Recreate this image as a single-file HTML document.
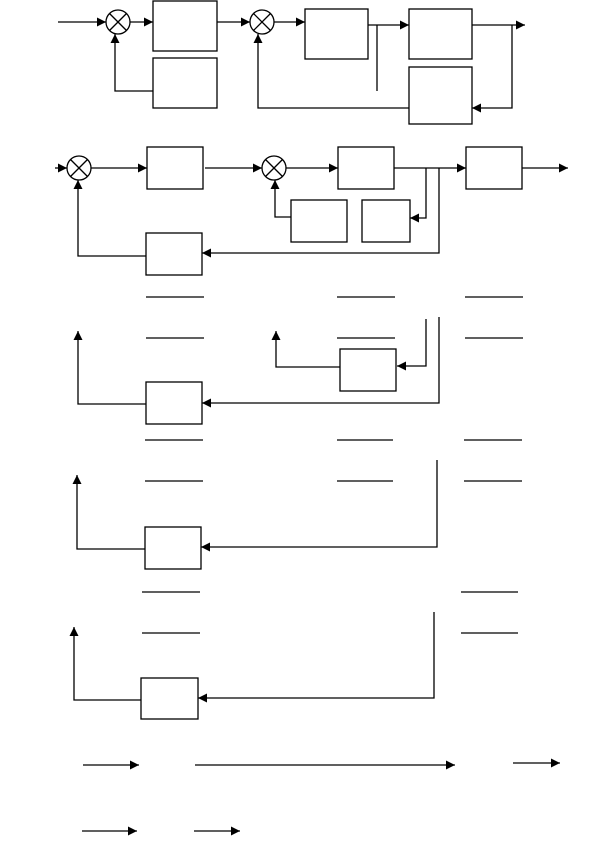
<!DOCTYPE html>
<html><head><meta charset="utf-8"><style>
html,body{margin:0;padding:0;background:#fff;}
svg{display:block;}
</style></head><body>
<svg width="614" height="858" viewBox="0 0 614 858" xmlns="http://www.w3.org/2000/svg">
<defs>
<marker id="a" markerWidth="10" markerHeight="10" refX="9" refY="5" orient="auto" markerUnits="userSpaceOnUse">
<path d="M0,0.5 L9,5 L0,9.5 Z" fill="#000"/>
</marker>
</defs>
<g stroke="#000" stroke-width="1.3" fill="none">
<!-- Diagram 1 -->
<line x1="58" y1="22" x2="106" y2="22" marker-end="url(#a)"/>
<circle cx="118" cy="22" r="12"/>
<line x1="109.5" y1="13.5" x2="126.5" y2="30.5"/><line x1="126.5" y1="13.5" x2="109.5" y2="30.5"/>
<line x1="130" y1="22" x2="153" y2="22" marker-end="url(#a)"/>
<rect x="153" y="1" width="64" height="50"/>
<rect x="153" y="58" width="64" height="50"/>
<polyline points="153,91 115,91 115,34" marker-end="url(#a)"/>
<line x1="217" y1="22" x2="250" y2="22" marker-end="url(#a)"/>
<circle cx="262" cy="22" r="12"/>
<line x1="253.5" y1="13.5" x2="270.5" y2="30.5"/><line x1="270.5" y1="13.5" x2="253.5" y2="30.5"/>
<line x1="274" y1="22" x2="305" y2="22" marker-end="url(#a)"/>
<rect x="305" y="9" width="63" height="50"/>
<line x1="368" y1="25" x2="409" y2="25" marker-end="url(#a)"/>
<line x1="377" y1="25" x2="377" y2="91"/>
<rect x="409" y="9" width="63" height="50"/>
<line x1="472" y1="25" x2="525" y2="25" marker-end="url(#a)"/>
<polyline points="512,25 512,108 472,108" marker-end="url(#a)"/>
<rect x="409" y="67" width="63" height="57"/>
<polyline points="409,108 258,108 258,34" marker-end="url(#a)"/>
<!-- Diagram 2 -->
<line x1="55" y1="168" x2="67" y2="168" marker-end="url(#a)"/>
<circle cx="79" cy="168" r="12"/>
<line x1="70.5" y1="159.5" x2="87.5" y2="176.5"/><line x1="87.5" y1="159.5" x2="70.5" y2="176.5"/>
<line x1="91" y1="168" x2="147" y2="168" marker-end="url(#a)"/>
<rect x="147" y="147" width="56" height="42"/>
<line x1="205" y1="168" x2="262" y2="168" marker-end="url(#a)"/>
<circle cx="274" cy="168" r="12"/>
<line x1="265.5" y1="159.5" x2="282.5" y2="176.5"/><line x1="282.5" y1="159.5" x2="265.5" y2="176.5"/>
<line x1="286" y1="168" x2="338" y2="168" marker-end="url(#a)"/>
<rect x="338" y="147" width="56" height="42"/>
<line x1="394" y1="168" x2="466" y2="168" marker-end="url(#a)"/>
<rect x="466" y="147" width="56" height="42"/>
<line x1="522" y1="168" x2="568" y2="168" marker-end="url(#a)"/>
<polyline points="426,168 426,218 410,218" marker-end="url(#a)"/>
<rect x="362" y="200" width="48" height="42"/>
<rect x="291" y="200" width="56" height="42"/>
<polyline points="291,217 275,217 275,180" marker-end="url(#a)"/>
<polyline points="439,168 439,253 202,253" marker-end="url(#a)"/>
<rect x="146" y="233" width="56" height="42"/>
<polyline points="146,256 78,256 78,180" marker-end="url(#a)"/>
<!-- Diagram 3 -->
<line x1="146" y1="297" x2="204" y2="297"/><line x1="146" y1="338" x2="204" y2="338"/>
<line x1="337" y1="297" x2="395" y2="297"/><line x1="337" y1="338" x2="395" y2="338"/>
<line x1="465" y1="297" x2="523" y2="297"/><line x1="465" y1="338" x2="523" y2="338"/>
<polyline points="146,404 78,404 78,331" marker-end="url(#a)"/>
<rect x="146" y="382" width="56" height="42"/>
<polyline points="439,317 439,403 202,403" marker-end="url(#a)"/>
<polyline points="426,319 426,366 397,366" marker-end="url(#a)"/>
<rect x="340" y="349" width="56" height="42"/>
<polyline points="340,367 276,367 276,331" marker-end="url(#a)"/>
<!-- Diagram 4 -->
<line x1="145" y1="440" x2="203" y2="440"/><line x1="145" y1="481" x2="203" y2="481"/>
<line x1="337" y1="440" x2="393" y2="440"/><line x1="337" y1="481" x2="393" y2="481"/>
<line x1="464" y1="440" x2="522" y2="440"/><line x1="464" y1="481" x2="522" y2="481"/>
<polyline points="145,549 77,549 77,475" marker-end="url(#a)"/>
<rect x="145" y="527" width="56" height="42"/>
<polyline points="437,460 437,547 201,547" marker-end="url(#a)"/>
<!-- Diagram 5 -->
<line x1="142" y1="592" x2="200" y2="592"/><line x1="142" y1="633" x2="200" y2="633"/>
<line x1="461" y1="592" x2="518" y2="592"/><line x1="461" y1="633" x2="518" y2="633"/>
<polyline points="141,700 74,700 74,627" marker-end="url(#a)"/>
<rect x="141" y="678" width="57" height="41"/>
<polyline points="434,612 434,698 198,698" marker-end="url(#a)"/>
<!-- Bottom arrows -->
<line x1="83" y1="765" x2="139" y2="765" marker-end="url(#a)"/>
<line x1="195" y1="765" x2="455" y2="765" marker-end="url(#a)"/>
<line x1="513" y1="763" x2="560" y2="763" marker-end="url(#a)"/>
<line x1="82" y1="831" x2="137" y2="831" marker-end="url(#a)"/>
<line x1="194" y1="831" x2="240" y2="831" marker-end="url(#a)"/>
</g>
</svg>
</body></html>
